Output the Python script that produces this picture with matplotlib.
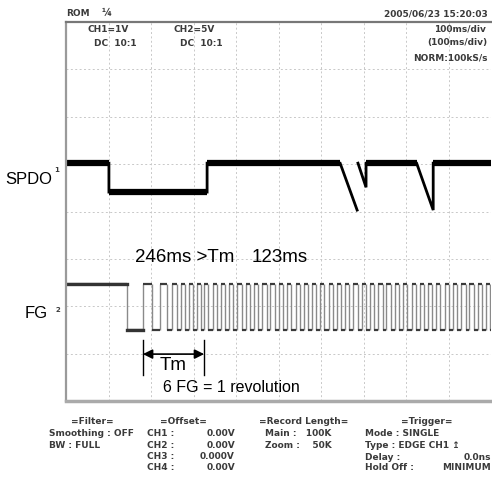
import numpy as np
import matplotlib
matplotlib.use('Agg')
import matplotlib.pyplot as plt

# time base: 100 ms/div, 10 div ; vertical: 8 div
spdo_t = [0, 101, 101, 332, 332, 645, 685, np.nan, 687, 706, 706, 825, 864, 864, 1000]
spdo_v = [5.02, 5.02, 4.41, 4.41, 5.02, 5.02, 4.03, np.nan, 5.02, 4.51, 5.02, 5.02, 4.03, 5.02, 5.02]

fg_hi = 2.47
fg_lo = 1.50
fg_rise = [181, 221, 249, 271, 289, 308, 325, 345, 364, 384, 403, 423, 442, 462, 481,
           501, 520, 540, 559, 579, 598, 618, 637, 657, 676, 696, 715, 735, 754, 774,
           793, 813, 832, 852, 871, 891, 910, 930, 949, 969, 988]
fg_fall = [144, 202, 238, 261, 280, 299, 318, 334, 355, 374, 394, 413, 433, 452, 472,
           491, 511, 530, 550, 569, 589, 608, 628, 647, 667, 686, 706, 725, 745, 764,
           784, 803, 823, 842, 862, 881, 901, 920, 940, 959, 979, 998]

tm_start = 181
tm_end = 325

W, H = 492, 492
fig = plt.figure(figsize=(W/100, H/100), dpi=100)
ax = fig.add_axes([66/W, 1-401/H, (491-66)/W, (401-22)/H])
ax.set_xlim(0, 1000)
ax.set_ylim(0, 8)
ax.set_xticks([])
ax.set_yticks([])
for x in range(100, 1000, 100):
    ax.axvline(x, color='#c8c8c8', lw=0.7, ls=(0, (2, 2.5)), zorder=0)
for y in range(1, 8):
    ax.axhline(y, color='#c8c8c8', lw=0.7, ls=(0, (2, 2.5)), zorder=0)
ax.spines['right'].set_visible(False)
ax.spines['top'].set_color('#777777')
ax.spines['top'].set_linewidth(1.6)
ax.spines['left'].set_color('#9a9a9a')
ax.spines['left'].set_linewidth(1.6)
ax.spines['bottom'].set_color('#aaaaaa')
ax.spines['bottom'].set_linewidth(2.5)

# SPDO trace
ax.plot(spdo_t, spdo_v, color='black', lw=2, solid_joinstyle='miter')
t = np.array(spdo_t)
v = np.array(spdo_v)
for i in range(len(t)-1):
    if v[i] == v[i+1] and not np.isnan(v[i]) and t[i+1] > t[i]:
        ax.plot([t[i], t[i+1]], [v[i], v[i]], color='black', lw=4.5, solid_capstyle='butt')

# FG trace: light vertical edges, dark levels
ax.vlines(fg_fall + fg_rise, fg_lo, fg_hi, color='#8a8a8a', lw=1.0)
hi_start = [0] + fg_rise
hi_end = fg_fall
lo_start = fg_fall
lo_end = fg_rise + [1000]
ax.hlines([fg_hi]*len(hi_end), hi_start, hi_end, color='#3a3a3a', lw=1.6)
ax.hlines([fg_lo]*len(lo_end), lo_start, lo_end, color='#3a3a3a', lw=1.6)
ax.plot([0, fg_fall[0]], [fg_hi, fg_hi], color='#333333', lw=2.4)
ax.plot([fg_fall[0], fg_rise[0]], [fg_lo, fg_lo], color='#333333', lw=2.4)

# Tm marker
ax.plot([tm_start, tm_start], [0.55, 1.29], color='black', lw=1)
ax.plot([tm_end, tm_end], [0.55, 1.29], color='black', lw=1)
ax.annotate('', xy=(tm_start, 0.99), xytext=(tm_end, 0.99),
            arrowprops=dict(arrowstyle='<|-|>', color='black', lw=1.2,
                            mutation_scale=14, shrinkA=0, shrinkB=0))

def ft_(x, y, s, **kw):
    fig.text(x/W, 1-y/H, s, **kw)

ann = dict(family='Liberation Sans', color='black', va='center')
ft_(135, 258, '246ms >Tm', fontsize=13.5, ha='left', **ann)
ft_(252, 258, '123ms', fontsize=13.5, ha='left', **ann)
ft_(160, 366, 'Tm', fontsize=13.5, ha='left', **ann)
ft_(163, 388, '6 FG = 1 revolution', fontsize=11.5, ha='left', **ann)
ft_(5, 180, 'SPDO', fontsize=12, ha='left', **ann)
ft_(25, 313, 'FG', fontsize=12, ha='left', **ann)

small = dict(family='DejaVu Sans', color='#3a3a3a', fontweight='bold', va='center')
ft_(57, 170, '1', fontsize=5, ha='center', **small)
ft_(58, 310, '2', fontsize=5, ha='center', **small)
ft_(66, 14, 'ROM', fontsize=6.5, ha='left', **small)
ft_(107, 13, '¼', fontsize=7, ha='center', **small)
ft_(488, 14, '2005/06/23 15:20:03', fontsize=6.5, ha='right', **small)
ft_(88, 29, 'CH1=1V', fontsize=6.5, ha='left', **small)
ft_(94, 44, 'DC  10:1', fontsize=6.5, ha='left', **small)
ft_(173, 29, 'CH2=5V', fontsize=6.5, ha='left', **small)
ft_(180, 44, 'DC  10:1', fontsize=6.5, ha='left', **small)
ft_(486, 29, '100ms/div', fontsize=6.5, ha='right', **small)
ft_(487, 43, '(100ms/div)', fontsize=6.5, ha='right', **small)
ft_(488, 58, 'NORM:100kS/s', fontsize=6.5, ha='right', **small)

# bottom setup panel
ft_(92, 422, '=Filter=', fontsize=6.5, ha='center', **small)
ft_(49, 434, 'Smoothing : OFF', fontsize=6.5, ha='left', **small)
ft_(49, 445, 'BW : FULL', fontsize=6.5, ha='left', **small)
ft_(183, 422, '=Offset=', fontsize=6.5, ha='center', **small)
ch_names = ['CH1 :', 'CH2 :', 'CH3 :', 'CH4 :']
ch_off = ['0.00V', '0.00V', '0.000V', '0.00V']
for i in range(4):
    ft_(147, 434 + i*11.3, ch_names[i], fontsize=6.5, ha='left', **small)
    ft_(235, 434 + i*11.3, ch_off[i], fontsize=6.5, ha='right', **small)
ft_(304, 422, '=Record Length=', fontsize=6.5, ha='center', **small)
ft_(265, 434, 'Main :   100K', fontsize=6.5, ha='left', **small)
ft_(265, 445, 'Zoom :    50K', fontsize=6.5, ha='left', **small)
ft_(427, 422, '=Trigger=', fontsize=6.5, ha='center', **small)
ft_(365, 434, 'Mode : SINGLE', fontsize=6.5, ha='left', **small)
ft_(365, 445, 'Type : EDGE CH1 \u21a5', fontsize=6.5, ha='left', **small)
ft_(365, 457, 'Delay :', fontsize=6.5, ha='left', **small)
ft_(491, 457, '0.0ns', fontsize=6.5, ha='right', **small)
ft_(365, 468, 'Hold Off :', fontsize=6.5, ha='left', **small)
ft_(491, 468, 'MINIMUM', fontsize=6.5, ha='right', **small)

fig.savefig('out.png', dpi=100, facecolor='white')
